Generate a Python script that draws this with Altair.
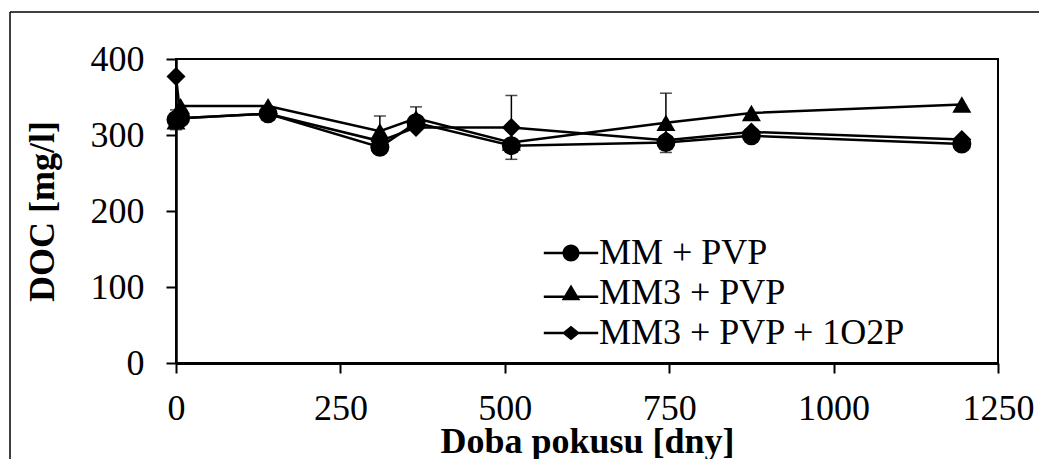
import altair as alt
import pandas as pd

# ---- data ----
days = [0, 7, 140, 310, 365, 510, 745, 875, 1195]
series_names = ["MM + PVP", "MM3 + PVP", "MM3 + PVP + 1O2P"]
mm_pvp = [320, 322, 328, 284, 316, 286, 290, 299, 288]
mm3_pvp = [318, 338, 338, 305, 322, 290, 316, 329, 340]
mm3_pvp_1o2p = [377, 322, 328, 292, 310, 310, 293, 304, 294]
err_mm_pvp = [13, 0, 0, 0, 0, 0, 0, 0, 0]
err_mm3_pvp = [0, 0, 0, 20, 15, 0, 39, 0, 0]
err_mm3_pvp_1o2p = [0, 0, 0, 0, 0, 42, 0, 0, 0]
x_ticks = [0, 250, 500, 750, 1000, 1250]
y_ticks = [0, 100, 200, 300, 400]

rows = []
for name, vals, errs in zip(series_names,
                            [mm_pvp, mm3_pvp, mm3_pvp_1o2p],
                            [err_mm_pvp, err_mm3_pvp, err_mm3_pvp_1o2p]):
    for d, v, e in zip(days, vals, errs):
        rows.append({"day": d, "value": v, "series": name, "err": e,
                     "lo": v - e, "hi": v + e})
df = pd.DataFrame(rows)
err_df = df[df["err"] > 0]

W, H = 822, 304
FONT = "Liberation Serif"

x_enc = alt.X("day:Q", scale=alt.Scale(domain=[0, 1250], nice=False),
              axis=alt.Axis(values=x_ticks, title="Doba pokusu [dny]", format="d",
                            labelFont=FONT, labelFontSize=36, labelColor="black",
                            titleFont=FONT, titleFontSize=36, titleFontWeight="bold",
                            titleColor="black", tickSize=10, tickWidth=2,
                            tickColor="black", domainColor="black", domainWidth=3,
                            labelPadding=18, grid=False, labelFlush=False,
                            titleY=78, titleBaseline="middle"))
y_enc = alt.Y("value:Q", scale=alt.Scale(domain=[0, 400], nice=False),
              axis=alt.Axis(values=y_ticks, title="DOC [mg/l]", format="d",
                            labelFont=FONT, labelFontSize=36, labelColor="black",
                            titleFont=FONT, titleFontSize=36, titleFontWeight="bold",
                            titleColor="black", tickSize=10, tickWidth=2,
                            tickColor="black", domainColor="black", domainWidth=2.5,
                            labelPadding=22, grid=False,
                            titleX=-134, titleY=H / 2, titleAlign="center",
                            titleBaseline="middle"))

base = alt.Chart(df)

lines = base.mark_line(color="black", strokeWidth=2.5).encode(
    x=x_enc, y=y_enc, detail="series:N")

err_base = alt.Chart(err_df)
err_rule = err_base.mark_rule(color="black", strokeWidth=1.5).encode(
    x="day:Q", y="lo:Q", y2="hi:Q")
cap_hi = err_base.mark_tick(orient="horizontal", color="black", size=12,
                            thickness=1.5).encode(x="day:Q", y="hi:Q")
cap_lo = err_base.mark_tick(orient="horizontal", color="black", size=12,
                            thickness=1.5).encode(x="day:Q", y="lo:Q")

points = base.mark_point(filled=True, color="black", opacity=1, size=361,
                         strokeWidth=0).encode(
    x="day:Q", y="value:Q",
    shape=alt.Shape("series:N",
                    scale=alt.Scale(domain=series_names,
                                    range=["circle", "triangle-up", "diamond"]),
                    legend=None))

# legend symbols: a filled bar (the line) plus the filled marker, all clockwise
bar = "M-3.2,-0.15H3.2V0.15H-3.2Z"
path_circle = bar + "M1,0A1,1 0 1,1 -1,0A1,1 0 1,1 1,0Z"
path_tri = "M-3.2,0.3H3.2V0.6H-3.2Z" + "M0,-1L1.1,0.85L-1.1,0.85Z"
path_dia = bar + "M0,-0.85L1.05,0L0,0.85L-1.05,0Z"

legend_layer = base.mark_point(filled=True, color="black", opacity=1).encode(
    shape=alt.Shape("series2:N",
                    scale=alt.Scale(domain=series_names,
                                    range=[path_circle, path_tri, path_dia]),
                    legend=alt.Legend(title=None, orient="none",
                                      legendX=377, legendY=176,
                                      symbolSize=289, symbolFillColor="black",
                                      symbolStrokeColor="black",
                                      symbolStrokeWidth=0, symbolOpacity=1,
                                      labelFont=FONT, labelFontSize=36,
                                      labelColor="black", labelOffset=10,
                                      labelLimit=1000, rowPadding=4,
                                      padding=0))
).transform_calculate(series2="datum.series").transform_filter("false")

frame_data = alt.Chart(pd.DataFrame({"k": [0]}))
frame_left = frame_data.mark_rule(color="black", strokeWidth=1.5).encode(
    x=alt.value(-166), y=alt.value(-47), y2=alt.value(H + 120))
frame_top = frame_data.mark_rule(color="black", strokeWidth=1.5).encode(
    x=alt.value(-166), x2=alt.value(W + 80), y=alt.value(-47))

chart = alt.layer(
    lines, err_rule, cap_hi, cap_lo, points, legend_layer, frame_left, frame_top
).resolve_scale(shape="independent").properties(
    width=W, height=H,
    autosize=alt.AutoSizeParams(type="none"),
    padding={"left": 168, "top": 51, "right": 41, "bottom": 100},
    background="white",
).configure_view(stroke="black", strokeWidth=2).configure_legend(
    labelFont=FONT, labelFontSize=36, labelColor="black")

chart.save("out.html", embed_options={"renderer": "svg", "actions": False})
